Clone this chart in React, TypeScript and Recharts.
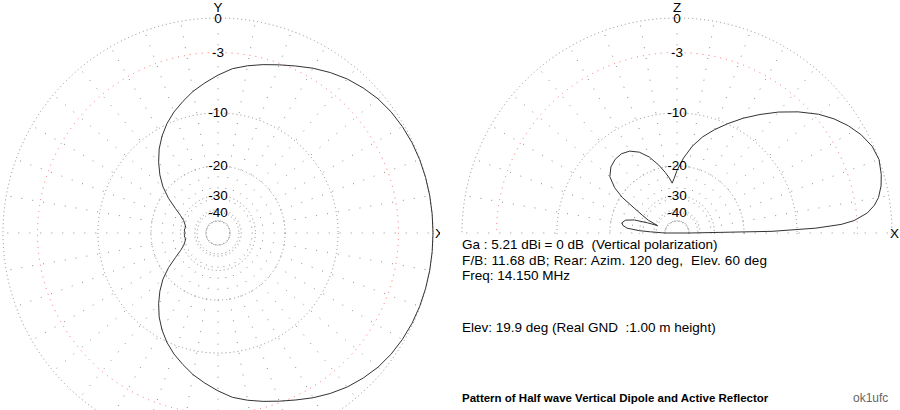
import React from "react";
import {
  RadarChart,
  Radar,
  PolarGrid,
  PolarAngleAxis,
  PolarRadiusAxis,
} from "recharts";

// azimuth pattern (dB), every 5 deg
const AZ_ANGLES = [
  0, 5, 10, 15, 20, 25, 30, 35, 40, 45, 50, 55, 60, 65, 70, 75, 80, 85, 90, 95,
  100, 105, 110, 115, 120, 125, 130, 135, 140, 145, 150, 155, 160, 165, 170,
  175, 180, 185, 190, 195, 200, 205, 210, 215, 220, 225, 230, 235, 240, 245,
  250, 255, 260, 265, 270, 275, 280, 285, 290, 295, 300, 305, 310, 315, 320,
  325, 330, 335, 340, 345, 350, 355,
];
const AZ_DB = [
  0, 0, 0, -0.01, -0.03, -0.08, -0.17, -0.3, -0.5, -0.8, -1.15, -1.6, -2.1,
  -2.65, -3.15, -3.6, -4.05, -4.55, -5.3, -6.1, -6.9, -7.85, -8.8, -9.9, -11.2,
  -12.7, -14.5, -16.5, -18.8, -21.8, -25.3, -28.3, -30.4, -31.5, -32.3, -31.7,
  -32.2, -31.7, -32.3, -31.5, -30.4, -28.3, -25.3, -21.8, -18.8, -16.5, -14.5,
  -12.7, -11.2, -9.9, -8.8, -7.85, -6.9, -6.1, -5.3, -4.55, -4.05, -3.6, -3.15,
  -2.65, -2.1, -1.6, -1.15, -0.8, -0.5, -0.3, -0.17, -0.08, -0.03, -0.01, 0, 0,
];

// elevation pattern (dB), right plot
const EL_ANGLES = [
  0, 1, 2, 3, 4, 6, 8, 10, 13, 16, 20, 24, 28, 32, 36, 40, 45, 50, 55, 60, 65,
  70, 75, 80, 85, 90, 93, 95.5, 98, 101, 105, 110, 115, 120, 125, 130, 135, 140,
  144, 147, 150, 153, 156, 159, 161, 163, 166, 169.5, 172, 174.5, 176.5, 177.5,
  179, 180,
];
const EL_DB = [
  -50, -14, -7.5, -4.6, -3.3, -2.0, -1.3, -0.85, -0.45, -0.2, 0, -0.12, -0.5,
  -1.05, -1.75, -2.6, -3.9, -5.3, -6.8, -8.3, -9.9, -11.5, -13.2, -15.3, -18.0,
  -21.2, -23.5, -25.0, -23.2, -21.4, -19.2, -16.8, -15.1, -14.1, -13.7, -13.8,
  -14.3, -15.4, -17.6, -20.5, -25.5, -29.5, -33, -40, -33, -27, -24, -23.1,
  -23.5, -25, -30, -36, -45, -50,
];

const AZ_SPOKES = [
  0, 10, 20, 30, 40, 50, 60, 70, 80, 90, 100, 110, 120, 130, 140, 150, 160, 170,
  180, 190, 200, 210, 220, 230, 240, 250, 260, 270, 280, 290, 300, 310, 320,
  330, 340, 350,
];
const EL_SPOKES = [
  0, 10, 20, 30, 40, 50, 60, 70, 80, 90, 100, 110, 120, 130, 140, 150, 160, 170,
  180,
];
const RING_DB = [0, -10, -20, -30, -40, -50];
const RED_RING_DB = [-3];

const INFO_LINES = [
  "Ga : 5.21 dBi = 0 dB  (Vertical polarization)",
  "F/B: 11.68 dB; Rear: Azim. 120 deg,  Elev. 60 deg",
  "Freq: 14.150 MHz",
];
const ELEV_LINE = "Elev: 19.9 deg (Real GND  :1.00 m height)";
const TITLE = "Pattern of Half wave Vertical Dipole and Active Reflector";
const AUTHOR = "ok1ufc";

const FONT = '"Liberation Sans", Arial, sans-serif';
const OUTER = 215;
// ARRL log scale: 0.89 per 2 dB, the -50 dB ring is the inner edge
const MIN_V = Math.pow(0.89, 25);
const INNER = OUTER * MIN_V;
const arrl = (db: number) => (Math.pow(0.89, -db / 2) - MIN_V) / (1 - MIN_V);
const toDb = (w: number) =>
  Math.round((-2 * Math.log(MIN_V + w * (1 - MIN_V))) / Math.log(0.89));

const ringTick = (props: any) => {
  const { x, y, payload } = props;
  const db = toDb(payload.value);
  if (db <= -50) return <g />;
  return (
    <text
      x={x}
      y={y}
      textAnchor="middle"
      dominantBaseline="central"
      fontSize={13.5}
      fontFamily={FONT}
      fill="#000"
    >
      {String(db)}
    </text>
  );
};

function PolarPlot({
  data,
  width,
  height,
  cx,
  cy,
  endAngle,
  spokes,
}: {
  data: { angle: number; v: number }[];
  width: number;
  height: number;
  cx: number;
  cy: number;
  endAngle: number;
  spokes: number[];
}) {
  return (
    <RadarChart
      width={width}
      height={height}
      cx={cx}
      cy={cy}
      innerRadius={INNER}
      outerRadius={OUTER}
      startAngle={0}
      endAngle={endAngle}
      data={data}
      margin={{ top: 0, right: 0, bottom: 0, left: 0 }}
    >
      <PolarAngleAxis
        type="number"
        dataKey="angle"
        domain={[0, endAngle]}
        allowDataOverflow
        ticks={spokes}
        tick={false}
        axisLine={false}
        tickLine={false}
      />
      <PolarRadiusAxis
        radiusAxisId="gray"
        type="number"
        angle={90}
        domain={[0, 1]}
        allowDataOverflow
        ticks={RING_DB.map(arrl)}
        tick={ringTick}
        axisLine={false}
      />
      <PolarRadiusAxis
        radiusAxisId="red"
        type="number"
        angle={90}
        domain={[0, 1]}
        allowDataOverflow
        ticks={RED_RING_DB.map(arrl)}
        tick={ringTick}
        axisLine={false}
      />
      <PolarGrid
        radiusAxisId="gray"
        gridType="circle"
        polarRadius={[]}
        stroke="#8c8c8c"
        strokeDasharray="1 10"
      />
      <PolarGrid
        radiusAxisId="gray"
        gridType="circle"
        radialLines={false}
        stroke="#8c8c8c"
        strokeDasharray="1 3"
      />
      <PolarGrid
        radiusAxisId="red"
        gridType="circle"
        radialLines={false}
        stroke="#ff6a6a"
        strokeDasharray="1 5"
      />
      <Radar
        radiusAxisId="gray"
        dataKey="v"
        stroke="#333"
        strokeWidth={1}
        fill="none"
        fillOpacity={0}
        dot={false}
        isAnimationActive={false}
      />
    </RadarChart>
  );
}

export default function App() {
  const azData = AZ_ANGLES.map((a, i) => ({ angle: a, v: arrl(AZ_DB[i]) }));
  const elData = EL_ANGLES.map((a, i) => ({ angle: a, v: arrl(EL_DB[i]) }));
  const letter = { fontSize: 13.5, fontFamily: FONT, fill: "#000" };
  const info = { fontSize: 13.5, fontFamily: FONT, fill: "#000", whiteSpace: "pre" as const };

  return (
    <div
      style={{
        position: "absolute",
        left: 0,
        top: 0,
        width: 900,
        height: 410,
        background: "#fff",
        overflow: "hidden",
      }}
    >
      <div style={{ position: "absolute", left: 0, top: 0, width: 440, height: 410, overflow: "hidden" }}>
        <PolarPlot data={azData} width={440} height={410} cx={218} cy={233} endAngle={360} spokes={AZ_SPOKES} />
        <svg width={440} height={410} style={{ position: "absolute", left: 0, top: 0 }}>
          <text x={218} y={12} textAnchor="middle" {...letter}>Y</text>
          <text x={435} y={238} {...letter}>X</text>
        </svg>
      </div>
      <div style={{ position: "absolute", left: 450, top: 0, width: 450, height: 234, overflow: "hidden" }}>
        <PolarPlot data={elData} width={450} height={234} cx={227} cy={233} endAngle={180} spokes={EL_SPOKES} />
      </div>
      <svg width={900} height={410} style={{ position: "absolute", left: 0, top: 0 }}>
        <text x={677} y={12} textAnchor="middle" {...letter}>Z</text>
        <text x={890} y={238} {...letter}>X</text>
        {INFO_LINES.map((t, i) => (
          <text key={t} x={462} y={249 + i * 15.7} style={info} textLength={i === 1 ? 305 : undefined}>{t}</text>
        ))}
        <text x={462} y={332} style={info}>{ELEV_LINE}</text>
        <text x={462} y={402} fontSize={11.5} fontWeight="bold" fontFamily={FONT} fill="#000">{TITLE}</text>
        <text x={853} y={402} fontSize={12} fontFamily={FONT} fill="#666">{AUTHOR}</text>
      </svg>
    </div>
  );
}
